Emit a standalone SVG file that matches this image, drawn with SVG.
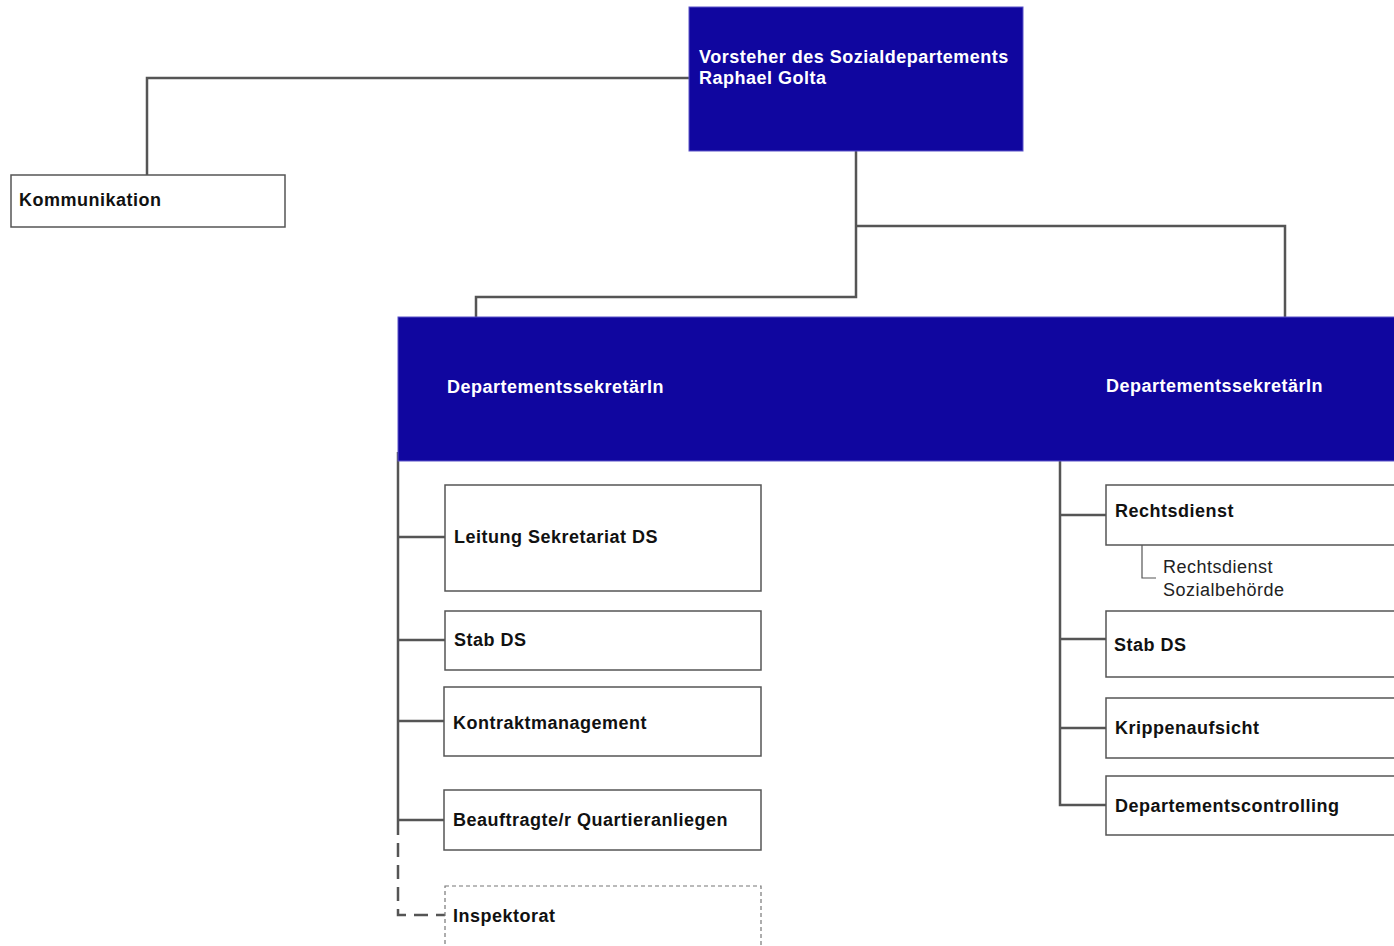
<svg xmlns="http://www.w3.org/2000/svg" width="1394" height="946" viewBox="0 0 1394 946">
<style>
.blue{fill:#10069f;stroke:#5a52c8;stroke-width:1}
.box{fill:#fff;stroke:#555;stroke-width:1.5}
.dbox{fill:#fff;stroke:#777;stroke-width:1.2;stroke-dasharray:4 3}
.ln{fill:none;stroke:#555;stroke-width:2.5}
.dl{fill:none;stroke:#555;stroke-width:2.5;stroke-dasharray:14 8}
.sl{fill:none;stroke:#555;stroke-width:1.2}
text{font-family:"Liberation Sans",Arial,sans-serif;font-size:18px;letter-spacing:0.5px}
.w{fill:#fff;font-weight:bold}
.b{fill:#111;font-weight:bold}
.n{fill:#222}
</style>
<rect width="1394" height="946" fill="#fff"/>
<g id="connectors">
<path class="ln" d="M689 78 H147 V175"/>
<path class="ln" d="M856 151 V297 H476 V317"/>
<path class="ln" d="M856 226 H1285 V317"/>
<path class="ln" d="M398 452 V835"/>
<path class="dl" d="M398 843 V915 H445"/>
<path class="ln" d="M398 537 H445 M398 640 H445 M398 721 H444 M398 820 H444"/>
<path class="ln" d="M1060 461 V805 H1106 M1060 515 H1106 M1060 639 H1106 M1060 728 H1106"/>
<path class="sl" d="M1142 545 V578 H1156"/>
</g>
<g id="vorsteher">
<rect class="blue" x="689" y="7" width="334" height="144"/>
<text class="w" x="699" y="63">Vorsteher des Sozialdepartements</text>
<text class="w" x="699" y="84">Raphael Golta</text>
</g>
<g id="kommunikation">
<rect class="box" x="11" y="175" width="274" height="52"/>
<text class="b" x="19" y="206">Kommunikation</text>
</g>
<g id="departementssekretaerin">
<rect class="blue" x="398" y="317" width="1000" height="144"/>
<text class="w" x="447" y="393">DepartementssekretärIn</text>
<text class="w" x="1106" y="392">DepartementssekretärIn</text>
</g>
<g id="leitung">
<rect class="box" x="445" y="485" width="316" height="106"/>
<text class="b" x="454" y="543">Leitung Sekretariat DS</text>
</g>
<g id="stab-left">
<rect class="box" x="445" y="611" width="316" height="59"/>
<text class="b" x="454" y="646">Stab DS</text>
</g>
<g id="kontrakt">
<rect class="box" x="444" y="687" width="317" height="69"/>
<text class="b" x="453" y="729">Kontraktmanagement</text>
</g>
<g id="quartier">
<rect class="box" x="444" y="790" width="317" height="60"/>
<text class="b" x="453" y="826">Beauftragte/r Quartieranliegen</text>
</g>
<g id="inspektorat">
<rect class="dbox" x="445" y="886" width="316" height="70"/>
<text class="b" x="453" y="922">Inspektorat</text>
</g>
<g id="rechtsdienst">
<rect class="box" x="1106" y="485" width="300" height="60"/>
<text class="b" x="1115" y="517">Rechtsdienst</text>
</g>
<g id="rechtsdienst-sozialbehoerde">
<text class="n" x="1163" y="573">Rechtsdienst</text>
<text class="n" x="1163" y="596">Sozialbehörde</text>
</g>
<g id="stab-right">
<rect class="box" x="1106" y="611" width="300" height="66"/>
<text class="b" x="1114" y="651">Stab DS</text>
</g>
<g id="krippen">
<rect class="box" x="1106" y="698" width="300" height="60"/>
<text class="b" x="1115" y="734">Krippenaufsicht</text>
</g>
<g id="controlling">
<rect class="box" x="1106" y="776" width="300" height="59"/>
<text class="b" x="1115" y="812">Departementscontrolling</text>
</g>
</svg>
